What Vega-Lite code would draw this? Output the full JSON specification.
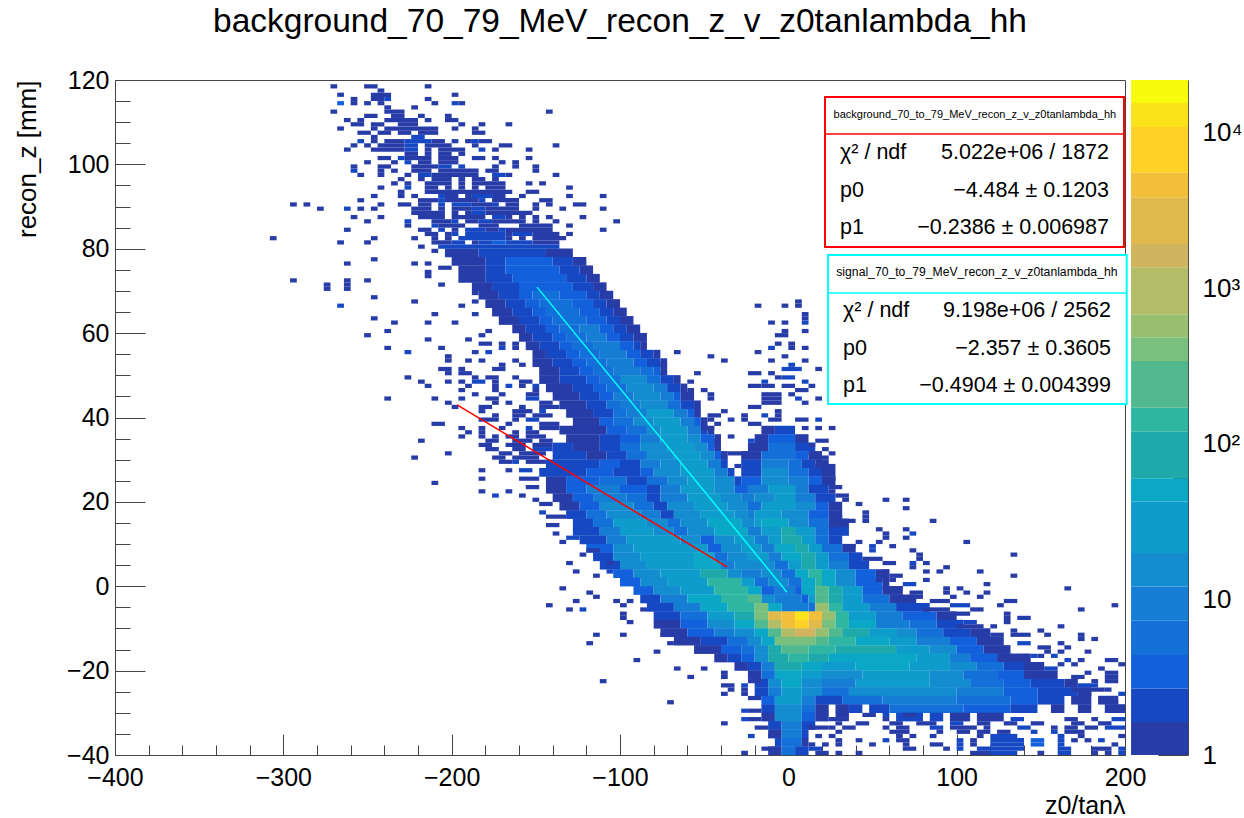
{"$schema":"https://vega.github.io/schema/vega-lite/v6.json","autosize":{"type":"none"},"padding":{"left":115,"top":80,"right":119,"bottom":63},"width":1010,"height":675,"background":"white","title":{"text":"background_70_79_MeV_recon_z_v_z0tanlambda_hh","fontSize":33.5,"font":"Liberation Sans","fontWeight":"normal","color":"#000","anchor":"middle","offset":29},"config":{"view":{"stroke":"#444","strokeWidth":1},"axis":{"grid":false,"zindex":1,"labelFont":"Liberation Sans","titleFont":"Liberation Sans","labelColor":"#000","titleColor":"#000","titleFontWeight":"normal","labelFontSize":25,"titleFontSize":25,"domainColor":"#444","tickColor":"#444","labelOverlap":false,"labelFlush":false,"labelBound":false}},
"datasets":{
"lines":[{"x":-196.8,"y":43,"k":"b"},{"x":-36.4,"y":4.6,"k":"b"},{"x":-149.3,"y":70.9,"k":"s"},{"x":-0.8,"y":-1.4,"k":"s"}],
"boxes":[{"x":21.8,"e":199.4,"y":116,"f":80.4,"k":"b"},{"x":23.6,"e":201,"y":78.5,"f":43.2,"k":"s"}],
"divs":[{"x":21.8,"e":199.4,"y":107.2,"k":"b"},{"x":23.6,"e":201,"y":69.5,"k":"s"}],
"tl":[{"x":30.7,"y":102.7,"t":"χ² / ndf"},{"x":30.7,"y":93.7,"t":"p0"},{"x":30.7,"y":84.9,"t":"p1"},{"x":32.5,"y":65.2,"t":"χ² / ndf"},{"x":32.5,"y":56.2,"t":"p0"},{"x":32.5,"y":47.5,"t":"p1"}],
"tr":[{"x":190.5,"y":102.7,"t":"5.022e+06 / 1872"},{"x":190.5,"y":93.7,"t":"−4.484 ± 0.1203"},{"x":190.5,"y":84.9,"t":"−0.2386 ± 0.006987"},{"x":191.7,"y":65.2,"t":"9.198e+06 / 2562"},{"x":191.7,"y":56.2,"t":"−2.357 ± 0.3605"},{"x":191.7,"y":47.5,"t":"−0.4904 ± 0.004399"}],
"tc1":[{"x":110.8,"y":111.7,"t":"background_70_to_79_MeV_recon_z_v_z0tanlambda_hh"}],
"tc2":[{"x":112,"y":74.5,"t":"signal_70_to_79_MeV_recon_z_v_z0tanlambda_hh"}],
"bar":[{"a":203.6,"b":237.5,"lo":1,"hi":1.63,"n":1},{"a":203.6,"b":237.5,"lo":1.63,"hi":2.68,"n":2},{"a":203.6,"b":237.5,"lo":2.68,"hi":4.4,"n":3},{"a":203.6,"b":237.5,"lo":4.4,"hi":7.3,"n":6},{"a":203.6,"b":237.5,"lo":7.3,"hi":12.1,"n":9},{"a":203.6,"b":237.5,"lo":12.1,"hi":19.9,"n":15},{"a":203.6,"b":237.5,"lo":19.9,"hi":42.7,"n":30},{"a":203.6,"b":237.5,"lo":42.7,"hi":60.3,"n":50},{"a":203.6,"b":237.5,"lo":60.3,"hi":120,"n":90},{"a":203.6,"b":237.5,"lo":120,"hi":171,"n":140},{"a":203.6,"b":237.5,"lo":171,"hi":341,"n":250},{"a":203.6,"b":237.5,"lo":341,"hi":486,"n":400},{"a":203.6,"b":237.5,"lo":486,"hi":683,"n":550},{"a":203.6,"b":237.5,"lo":683,"hi":1367,"n":1000},{"a":203.6,"b":237.5,"lo":1367,"hi":1932,"n":1600},{"a":203.6,"b":237.5,"lo":1932,"hi":3866,"n":2700},{"a":203.6,"b":237.5,"lo":3866,"hi":5540,"n":4500},{"a":203.6,"b":237.5,"lo":5540,"hi":10940,"n":8000},{"a":203.6,"b":237.5,"lo":10940,"hi":15590,"n":13000},{"a":203.6,"b":237.5,"lo":15590,"hi":21900,"n":18000}],
"body":[
{"x":-204,"e":-184,"y":79,"n":1},{"x":-184,"e":-144,"y":79,"n":2},{"x":-144,"e":-128,"y":79,"n":1},
{"x":-200,"e":-180,"y":77,"n":1},{"x":-180,"e":-168,"y":77,"n":2},{"x":-168,"e":-140,"y":77,"n":3},{"x":-140,"e":-128,"y":77,"n":2},{"x":-128,"e":-120,"y":77,"n":1},
{"x":-196,"e":-180,"y":75,"n":1},{"x":-180,"e":-168,"y":75,"n":2},{"x":-168,"e":-136,"y":75,"n":3},{"x":-136,"e":-124,"y":75,"n":2},{"x":-124,"e":-116,"y":75,"n":1},
{"x":-196,"e":-180,"y":73,"n":1},{"x":-180,"e":-164,"y":73,"n":2},{"x":-164,"e":-132,"y":73,"n":3},{"x":-132,"e":-120,"y":73,"n":2},{"x":-120,"e":-112,"y":73,"n":1},
{"x":-188,"e":-176,"y":71,"n":1},{"x":-176,"e":-160,"y":71,"n":2},{"x":-160,"e":-128,"y":71,"n":3},{"x":-128,"e":-116,"y":71,"n":2},{"x":-116,"e":-108,"y":71,"n":1},
{"x":-184,"e":-172,"y":69,"n":1},{"x":-172,"e":-160,"y":69,"n":2},{"x":-160,"e":-152,"y":69,"n":3},{"x":-152,"e":-136,"y":69,"n":6},{"x":-136,"e":-120,"y":69,"n":3},{"x":-120,"e":-112,"y":69,"n":2},{"x":-112,"e":-104,"y":69,"n":1},
{"x":-180,"e":-168,"y":67,"n":1},{"x":-168,"e":-156,"y":67,"n":2},{"x":-156,"e":-148,"y":67,"n":3},{"x":-148,"e":-128,"y":67,"n":6},{"x":-128,"e":-116,"y":67,"n":3},{"x":-116,"e":-108,"y":67,"n":2},{"x":-108,"e":-100,"y":67,"n":1},
{"x":-176,"e":-164,"y":65,"n":1},{"x":-164,"e":-152,"y":65,"n":2},{"x":-152,"e":-144,"y":65,"n":3},{"x":-144,"e":-124,"y":65,"n":6},{"x":-124,"e":-112,"y":65,"n":3},{"x":-112,"e":-104,"y":65,"n":2},{"x":-104,"e":-96,"y":65,"n":1},
{"x":-172,"e":-160,"y":63,"n":1},{"x":-160,"e":-148,"y":63,"n":2},{"x":-148,"e":-140,"y":63,"n":3},{"x":-140,"e":-120,"y":63,"n":6},{"x":-120,"e":-108,"y":63,"n":3},{"x":-108,"e":-100,"y":63,"n":2},{"x":-100,"e":-92,"y":63,"n":1},
{"x":-164,"e":-156,"y":61,"n":1},{"x":-156,"e":-144,"y":61,"n":2},{"x":-144,"e":-136,"y":61,"n":3},{"x":-136,"e":-124,"y":61,"n":6},{"x":-124,"e":-112,"y":61,"n":9},{"x":-112,"e":-104,"y":61,"n":3},{"x":-104,"e":-96,"y":61,"n":2},{"x":-96,"e":-88,"y":61,"n":1},
{"x":-160,"e":-152,"y":59,"n":1},{"x":-152,"e":-140,"y":59,"n":2},{"x":-140,"e":-132,"y":59,"n":3},{"x":-132,"e":-120,"y":59,"n":6},{"x":-120,"e":-108,"y":59,"n":9},{"x":-108,"e":-100,"y":59,"n":3},{"x":-100,"e":-92,"y":59,"n":2},{"x":-92,"e":-84,"y":59,"n":1},
{"x":-156,"e":-148,"y":57,"n":1},{"x":-148,"e":-136,"y":57,"n":2},{"x":-136,"e":-128,"y":57,"n":3},{"x":-128,"e":-116,"y":57,"n":6},{"x":-116,"e":-100,"y":57,"n":9},{"x":-100,"e":-92,"y":57,"n":3},{"x":-92,"e":-88,"y":57,"n":2},{"x":-88,"e":-84,"y":57,"n":1},
{"x":-152,"e":-144,"y":55,"n":1},{"x":-144,"e":-132,"y":55,"n":2},{"x":-132,"e":-124,"y":55,"n":3},{"x":-124,"e":-112,"y":55,"n":6},{"x":-112,"e":-96,"y":55,"n":9},{"x":-96,"e":-88,"y":55,"n":3},{"x":-88,"e":-80,"y":55,"n":2},{"x":-80,"e":-76,"y":55,"n":1},
{"x":-152,"e":-140,"y":53,"n":1},{"x":-140,"e":-128,"y":53,"n":2},{"x":-128,"e":-120,"y":53,"n":3},{"x":-120,"e":-108,"y":53,"n":6},{"x":-108,"e":-92,"y":53,"n":9},{"x":-92,"e":-84,"y":53,"n":3},{"x":-84,"e":-76,"y":53,"n":2},{"x":-76,"e":-72,"y":53,"n":1},
{"x":-148,"e":-136,"y":51,"n":1},{"x":-136,"e":-124,"y":51,"n":2},{"x":-124,"e":-116,"y":51,"n":3},{"x":-116,"e":-104,"y":51,"n":6},{"x":-104,"e":-88,"y":51,"n":9},{"x":-88,"e":-80,"y":51,"n":6},{"x":-80,"e":-76,"y":51,"n":3},{"x":-76,"e":-72,"y":51,"n":1},
{"x":-148,"e":-136,"y":49,"n":1},{"x":-136,"e":-120,"y":49,"n":2},{"x":-120,"e":-112,"y":49,"n":3},{"x":-112,"e":-100,"y":49,"n":6},{"x":-100,"e":-84,"y":49,"n":15},{"x":-84,"e":-76,"y":49,"n":6},{"x":-76,"e":-68,"y":49,"n":2},{"x":-68,"e":-64,"y":49,"n":1},
{"x":-144,"e":-128,"y":47,"n":1},{"x":-128,"e":-116,"y":47,"n":2},{"x":-116,"e":-108,"y":47,"n":3},{"x":-108,"e":-96,"y":47,"n":6},{"x":-96,"e":-80,"y":47,"n":15},{"x":-80,"e":-72,"y":47,"n":9},{"x":-72,"e":-64,"y":47,"n":2},{"x":-64,"e":-60,"y":47,"n":1},
{"x":-140,"e":-124,"y":45,"n":1},{"x":-124,"e":-112,"y":45,"n":2},{"x":-112,"e":-104,"y":45,"n":3},{"x":-104,"e":-92,"y":45,"n":9},{"x":-92,"e":-76,"y":45,"n":15},{"x":-76,"e":-68,"y":45,"n":9},{"x":-68,"e":-64,"y":45,"n":3},{"x":-64,"e":-56,"y":45,"n":1},
{"x":-136,"e":-120,"y":43,"n":1},{"x":-120,"e":-108,"y":43,"n":2},{"x":-108,"e":-100,"y":43,"n":6},{"x":-100,"e":-88,"y":43,"n":9},{"x":-88,"e":-72,"y":43,"n":15},{"x":-72,"e":-64,"y":43,"n":6},{"x":-64,"e":-56,"y":43,"n":2},{"x":-56,"e":-52,"y":43,"n":1},
{"x":-132,"e":-116,"y":41,"n":1},{"x":-116,"e":-104,"y":41,"n":2},{"x":-104,"e":-96,"y":41,"n":6},{"x":-96,"e":-84,"y":41,"n":9},{"x":-84,"e":-68,"y":41,"n":30},{"x":-68,"e":-60,"y":41,"n":9},{"x":-60,"e":-56,"y":41,"n":3},{"x":-56,"e":-52,"y":41,"n":1},
{"x":-128,"e":-112,"y":39,"n":1},{"x":-112,"e":-104,"y":39,"n":3},{"x":-104,"e":-92,"y":39,"n":6},{"x":-92,"e":-80,"y":39,"n":15},{"x":-80,"e":-64,"y":39,"n":30},{"x":-64,"e":-56,"y":39,"n":9},{"x":-56,"e":-52,"y":39,"n":3},{"x":-52,"e":-48,"y":39,"n":1},
{"x":-136,"e":-108,"y":37,"n":1},{"x":-108,"e":-96,"y":37,"n":3},{"x":-96,"e":-84,"y":37,"n":6},{"x":-84,"e":-76,"y":37,"n":15},{"x":-76,"e":-60,"y":37,"n":30},{"x":-60,"e":-52,"y":37,"n":9},{"x":-52,"e":-48,"y":37,"n":2},{"x":-48,"e":-44,"y":37,"n":1},{"x":-16,"e":-8,"y":37,"n":1},{"x":-8,"e":4,"y":37,"n":2},
{"x":-132,"e":-112,"y":35,"n":1},{"x":-112,"e":-100,"y":35,"n":2},{"x":-100,"e":-88,"y":35,"n":3},{"x":-88,"e":-76,"y":35,"n":9},{"x":-76,"e":-60,"y":35,"n":30},{"x":-60,"e":-52,"y":35,"n":15},{"x":-52,"e":-44,"y":35,"n":3},{"x":-44,"e":-40,"y":35,"n":1},{"x":-20,"e":-12,"y":35,"n":1},{"x":-12,"e":4,"y":35,"n":3},{"x":4,"e":12,"y":35,"n":1},
{"x":-140,"e":-128,"y":33,"n":2},{"x":-128,"e":-112,"y":33,"n":1},{"x":-112,"e":-100,"y":33,"n":2},{"x":-100,"e":-88,"y":33,"n":6},{"x":-88,"e":-72,"y":33,"n":15},{"x":-72,"e":-56,"y":33,"n":30},{"x":-56,"e":-48,"y":33,"n":15},{"x":-48,"e":-44,"y":33,"n":3},{"x":-44,"e":-40,"y":33,"n":1},{"x":-24,"e":-12,"y":33,"n":1},{"x":-12,"e":4,"y":33,"n":6},{"x":4,"e":16,"y":33,"n":2},
{"x":-140,"e":-120,"y":31,"n":2},{"x":-120,"e":-108,"y":31,"n":1},{"x":-108,"e":-96,"y":31,"n":2},{"x":-96,"e":-84,"y":31,"n":6},{"x":-84,"e":-68,"y":31,"n":15},{"x":-68,"e":-52,"y":31,"n":30},{"x":-52,"e":-44,"y":31,"n":15},{"x":-44,"e":-40,"y":31,"n":3},{"x":-40,"e":-36,"y":31,"n":1},{"x":-28,"e":-16,"y":31,"n":1},{"x":-16,"e":4,"y":31,"n":6},{"x":4,"e":12,"y":31,"n":3},{"x":12,"e":20,"y":31,"n":1},
{"x":-144,"e":-112,"y":29,"n":2},{"x":-112,"e":-100,"y":29,"n":3},{"x":-100,"e":-88,"y":29,"n":2},{"x":-88,"e":-76,"y":29,"n":9},{"x":-76,"e":-64,"y":29,"n":15},{"x":-64,"e":-48,"y":29,"n":30},{"x":-48,"e":-40,"y":29,"n":9},{"x":-40,"e":-36,"y":29,"n":2},{"x":-28,"e":-16,"y":29,"n":2},{"x":-16,"e":0,"y":29,"n":9},{"x":0,"e":8,"y":29,"n":6},{"x":8,"e":16,"y":29,"n":2},{"x":16,"e":24,"y":29,"n":1},
{"x":-148,"e":-120,"y":27,"n":2},{"x":-120,"e":-104,"y":27,"n":3},{"x":-104,"e":-88,"y":27,"n":2},{"x":-88,"e":-80,"y":27,"n":3},{"x":-80,"e":-64,"y":27,"n":15},{"x":-64,"e":-44,"y":27,"n":30},{"x":-44,"e":-36,"y":27,"n":9},{"x":-36,"e":-32,"y":27,"n":2},{"x":-28,"e":-16,"y":27,"n":2},{"x":-16,"e":0,"y":27,"n":15},{"x":0,"e":12,"y":27,"n":6},{"x":12,"e":20,"y":27,"n":2},{"x":20,"e":28,"y":27,"n":1},
{"x":-144,"e":-132,"y":25,"n":1},{"x":-132,"e":-112,"y":25,"n":3},{"x":-112,"e":-96,"y":25,"n":6},{"x":-96,"e":-84,"y":25,"n":2},{"x":-84,"e":-72,"y":25,"n":6},{"x":-72,"e":-60,"y":25,"n":15},{"x":-60,"e":-44,"y":25,"n":30},{"x":-44,"e":-32,"y":25,"n":15},{"x":-32,"e":-28,"y":25,"n":2},{"x":-28,"e":-16,"y":25,"n":3},{"x":-16,"e":0,"y":25,"n":15},{"x":0,"e":12,"y":25,"n":9},{"x":12,"e":20,"y":25,"n":3},{"x":20,"e":28,"y":25,"n":1},
{"x":-144,"e":-132,"y":23,"n":1},{"x":-132,"e":-120,"y":23,"n":3},{"x":-120,"e":-100,"y":23,"n":9},{"x":-100,"e":-84,"y":23,"n":3},{"x":-84,"e":-76,"y":23,"n":2},{"x":-76,"e":-64,"y":23,"n":9},{"x":-64,"e":-44,"y":23,"n":30},{"x":-44,"e":-32,"y":23,"n":15},{"x":-32,"e":-24,"y":23,"n":3},{"x":-24,"e":-12,"y":23,"n":9},{"x":-12,"e":4,"y":23,"n":30},{"x":4,"e":12,"y":23,"n":9},{"x":12,"e":24,"y":23,"n":2},
{"x":-140,"e":-128,"y":21,"n":1},{"x":-128,"e":-116,"y":21,"n":3},{"x":-116,"e":-96,"y":21,"n":9},{"x":-96,"e":-84,"y":21,"n":6},{"x":-84,"e":-76,"y":21,"n":2},{"x":-76,"e":-60,"y":21,"n":9},{"x":-60,"e":-40,"y":21,"n":30},{"x":-40,"e":-28,"y":21,"n":15},{"x":-28,"e":-20,"y":21,"n":9},{"x":-20,"e":-8,"y":21,"n":15},{"x":-8,"e":4,"y":21,"n":30},{"x":4,"e":16,"y":21,"n":9},{"x":16,"e":28,"y":21,"n":2},
{"x":-136,"e":-124,"y":19,"n":1},{"x":-124,"e":-112,"y":19,"n":3},{"x":-112,"e":-92,"y":19,"n":15},{"x":-92,"e":-80,"y":19,"n":6},{"x":-80,"e":-72,"y":19,"n":2},{"x":-72,"e":-56,"y":19,"n":15},{"x":-56,"e":-36,"y":19,"n":30},{"x":-36,"e":-24,"y":19,"n":15},{"x":-24,"e":-16,"y":19,"n":6},{"x":-16,"e":4,"y":19,"n":30},{"x":4,"e":16,"y":19,"n":15},{"x":16,"e":24,"y":19,"n":3},{"x":24,"e":32,"y":19,"n":1},
{"x":-132,"e":-120,"y":17,"n":2},{"x":-120,"e":-108,"y":17,"n":6},{"x":-108,"e":-88,"y":17,"n":15},{"x":-88,"e":-76,"y":17,"n":9},{"x":-76,"e":-68,"y":17,"n":2},{"x":-68,"e":-52,"y":17,"n":15},{"x":-52,"e":-32,"y":17,"n":30},{"x":-32,"e":-24,"y":17,"n":15},{"x":-24,"e":-20,"y":17,"n":9},{"x":-20,"e":-4,"y":17,"n":30},{"x":-4,"e":12,"y":17,"n":15},{"x":12,"e":24,"y":17,"n":3},{"x":24,"e":32,"y":17,"n":1},
{"x":-128,"e":-116,"y":15,"n":2},{"x":-116,"e":-104,"y":15,"n":6},{"x":-104,"e":-84,"y":15,"n":30},{"x":-84,"e":-72,"y":15,"n":15},{"x":-72,"e":-64,"y":15,"n":6},{"x":-64,"e":-48,"y":15,"n":15},{"x":-48,"e":-28,"y":15,"n":50},{"x":-28,"e":-20,"y":15,"n":15},{"x":-20,"e":-16,"y":15,"n":30},{"x":-16,"e":0,"y":15,"n":50},{"x":0,"e":12,"y":15,"n":15},{"x":12,"e":24,"y":15,"n":6},{"x":24,"e":36,"y":15,"n":1},
{"x":-128,"e":-112,"y":13,"n":2},{"x":-112,"e":-100,"y":13,"n":9},{"x":-100,"e":-80,"y":13,"n":30},{"x":-80,"e":-68,"y":13,"n":15},{"x":-68,"e":-60,"y":13,"n":6},{"x":-60,"e":-44,"y":13,"n":15},{"x":-44,"e":-24,"y":13,"n":50},{"x":-24,"e":-16,"y":13,"n":9},{"x":-16,"e":-4,"y":13,"n":30},{"x":-4,"e":4,"y":13,"n":90},{"x":4,"e":16,"y":13,"n":30},{"x":16,"e":24,"y":13,"n":6},{"x":24,"e":36,"y":13,"n":2},
{"x":-124,"e":-108,"y":11,"n":2},{"x":-108,"e":-96,"y":11,"n":9},{"x":-96,"e":-64,"y":11,"n":30},{"x":-64,"e":-52,"y":11,"n":15},{"x":-52,"e":-44,"y":11,"n":3},{"x":-44,"e":-32,"y":11,"n":15},{"x":-32,"e":-20,"y":11,"n":30},{"x":-20,"e":-12,"y":11,"n":9},{"x":-12,"e":-4,"y":11,"n":30},{"x":-4,"e":8,"y":11,"n":90},{"x":8,"e":16,"y":11,"n":30},{"x":16,"e":24,"y":11,"n":6},{"x":24,"e":32,"y":11,"n":2},
{"x":-120,"e":-104,"y":9,"n":3},{"x":-104,"e":-92,"y":9,"n":15},{"x":-92,"e":-48,"y":9,"n":30},{"x":-48,"e":-40,"y":9,"n":3},{"x":-40,"e":-28,"y":9,"n":15},{"x":-28,"e":-16,"y":9,"n":30},{"x":-16,"e":-8,"y":9,"n":9},{"x":-8,"e":4,"y":9,"n":50},{"x":4,"e":12,"y":9,"n":90},{"x":12,"e":20,"y":9,"n":30},{"x":20,"e":32,"y":9,"n":6},{"x":32,"e":40,"y":9,"n":1},
{"x":-116,"e":-104,"y":7,"n":2},{"x":-104,"e":-88,"y":7,"n":15},{"x":-88,"e":-56,"y":7,"n":30},{"x":-56,"e":-44,"y":7,"n":50},{"x":-44,"e":-36,"y":7,"n":6},{"x":-36,"e":-24,"y":7,"n":15},{"x":-24,"e":-12,"y":7,"n":30},{"x":-12,"e":-4,"y":7,"n":9},{"x":-4,"e":8,"y":7,"n":50},{"x":8,"e":16,"y":7,"n":90},{"x":16,"e":24,"y":7,"n":30},{"x":24,"e":36,"y":7,"n":6},{"x":36,"e":44,"y":7,"n":2},
{"x":-112,"e":-100,"y":5,"n":2},{"x":-100,"e":-84,"y":5,"n":15},{"x":-84,"e":-56,"y":5,"n":30},{"x":-56,"e":-40,"y":5,"n":50},{"x":-40,"e":-32,"y":5,"n":9},{"x":-32,"e":-8,"y":5,"n":15},{"x":-8,"e":0,"y":5,"n":6},{"x":0,"e":8,"y":5,"n":30},{"x":8,"e":16,"y":5,"n":90},{"x":16,"e":24,"y":5,"n":30},{"x":24,"e":36,"y":5,"n":9},{"x":36,"e":48,"y":5,"n":2},
{"x":-104,"e":-92,"y":3,"n":3},{"x":-92,"e":-76,"y":3,"n":15},{"x":-76,"e":-52,"y":3,"n":30},{"x":-52,"e":-36,"y":3,"n":90},{"x":-36,"e":-28,"y":3,"n":15},{"x":-28,"e":-16,"y":3,"n":9},{"x":-16,"e":-4,"y":3,"n":15},{"x":-4,"e":4,"y":3,"n":6},{"x":4,"e":12,"y":3,"n":50},{"x":12,"e":20,"y":3,"n":140},{"x":20,"e":28,"y":3,"n":50},{"x":28,"e":40,"y":3,"n":15},{"x":40,"e":52,"y":3,"n":3},{"x":52,"e":60,"y":3,"n":1},
{"x":-100,"e":-88,"y":1,"n":3},{"x":-88,"e":-72,"y":1,"n":15},{"x":-72,"e":-48,"y":1,"n":30},{"x":-48,"e":-28,"y":1,"n":140},{"x":-28,"e":-20,"y":1,"n":30},{"x":-20,"e":-12,"y":1,"n":6},{"x":-12,"e":0,"y":1,"n":15},{"x":0,"e":8,"y":1,"n":6},{"x":8,"e":16,"y":1,"n":50},{"x":16,"e":20,"y":1,"n":140},{"x":20,"e":28,"y":1,"n":50},{"x":28,"e":40,"y":1,"n":15},{"x":40,"e":56,"y":1,"n":3},{"x":56,"e":60,"y":1,"n":1},
{"x":-92,"e":-80,"y":-1,"n":3},{"x":-80,"e":-64,"y":-1,"n":15},{"x":-64,"e":-44,"y":-1,"n":30},{"x":-44,"e":-24,"y":-1,"n":140},{"x":-24,"e":-16,"y":-1,"n":50},{"x":-16,"e":-8,"y":-1,"n":3},{"x":-8,"e":4,"y":-1,"n":9},{"x":4,"e":8,"y":-1,"n":3},{"x":8,"e":16,"y":-1,"n":50},{"x":16,"e":24,"y":-1,"n":250},{"x":24,"e":32,"y":-1,"n":90},{"x":32,"e":44,"y":-1,"n":30},{"x":44,"e":56,"y":-1,"n":3},{"x":56,"e":68,"y":-1,"n":1},
{"x":-88,"e":-76,"y":-3,"n":2},{"x":-76,"e":-60,"y":-3,"n":9},{"x":-60,"e":-40,"y":-3,"n":50},{"x":-40,"e":-24,"y":-3,"n":140},{"x":-24,"e":-16,"y":-3,"n":250},{"x":-16,"e":-8,"y":-3,"n":15},{"x":-8,"e":8,"y":-3,"n":9},{"x":8,"e":12,"y":-3,"n":3},{"x":12,"e":16,"y":-3,"n":30},{"x":16,"e":24,"y":-3,"n":250},{"x":24,"e":32,"y":-3,"n":90},{"x":32,"e":44,"y":-3,"n":30},{"x":44,"e":60,"y":-3,"n":6},{"x":60,"e":76,"y":-3,"n":1},
{"x":-84,"e":-68,"y":-5,"n":2},{"x":-68,"e":-52,"y":-5,"n":9},{"x":-52,"e":-36,"y":-5,"n":50},{"x":-36,"e":-20,"y":-5,"n":140},{"x":-20,"e":-12,"y":-5,"n":400},{"x":-12,"e":-4,"y":-5,"n":50},{"x":-4,"e":12,"y":-5,"n":9},{"x":12,"e":16,"y":-5,"n":6},{"x":16,"e":24,"y":-5,"n":550},{"x":24,"e":32,"y":-5,"n":140},{"x":32,"e":48,"y":-5,"n":30},{"x":48,"e":64,"y":-5,"n":9},{"x":64,"e":84,"y":-5,"n":2},
{"x":-80,"e":-64,"y":-7,"n":2},{"x":-64,"e":-48,"y":-7,"n":6},{"x":-48,"e":-32,"y":-7,"n":30},{"x":-32,"e":-20,"y":-7,"n":90},{"x":-20,"e":-12,"y":-7,"n":400},{"x":-12,"e":-4,"y":-7,"n":2700},{"x":-4,"e":4,"y":-7,"n":4500},{"x":4,"e":12,"y":-7,"n":13000},{"x":12,"e":20,"y":-7,"n":4500},{"x":20,"e":28,"y":-7,"n":550},{"x":28,"e":36,"y":-7,"n":140},{"x":36,"e":52,"y":-7,"n":30},{"x":52,"e":68,"y":-7,"n":9},{"x":68,"e":88,"y":-7,"n":3},{"x":88,"e":100,"y":-7,"n":1},
{"x":-80,"e":-64,"y":-9,"n":1},{"x":-64,"e":-48,"y":-9,"n":3},{"x":-48,"e":-32,"y":-9,"n":15},{"x":-32,"e":-20,"y":-9,"n":50},{"x":-20,"e":-12,"y":-9,"n":250},{"x":-12,"e":-4,"y":-9,"n":1000},{"x":-4,"e":4,"y":-9,"n":4500},{"x":4,"e":12,"y":-9,"n":8000},{"x":12,"e":20,"y":-9,"n":2700},{"x":20,"e":28,"y":-9,"n":400},{"x":28,"e":36,"y":-9,"n":140},{"x":36,"e":52,"y":-9,"n":50},{"x":52,"e":72,"y":-9,"n":9},{"x":72,"e":88,"y":-9,"n":6},{"x":88,"e":104,"y":-9,"n":2},
{"x":-76,"e":-60,"y":-11,"n":1},{"x":-60,"e":-44,"y":-11,"n":3},{"x":-44,"e":-32,"y":-11,"n":9},{"x":-32,"e":-20,"y":-11,"n":15},{"x":-20,"e":-12,"y":-11,"n":50},{"x":-12,"e":-4,"y":-11,"n":250},{"x":-4,"e":4,"y":-11,"n":1000},{"x":4,"e":16,"y":-11,"n":1600},{"x":16,"e":24,"y":-11,"n":550},{"x":24,"e":32,"y":-11,"n":250},{"x":32,"e":48,"y":-11,"n":90},{"x":48,"e":64,"y":-11,"n":30},{"x":64,"e":76,"y":-11,"n":15},{"x":76,"e":92,"y":-11,"n":6},{"x":92,"e":108,"y":-11,"n":2},{"x":108,"e":120,"y":-11,"n":1},
{"x":-68,"e":-52,"y":-13,"n":1},{"x":-52,"e":-36,"y":-13,"n":2},{"x":-36,"e":-24,"y":-13,"n":6},{"x":-24,"e":-16,"y":-13,"n":15},{"x":-16,"e":-8,"y":-13,"n":50},{"x":-8,"e":16,"y":-13,"n":400},{"x":16,"e":24,"y":-13,"n":250},{"x":24,"e":40,"y":-13,"n":140},{"x":40,"e":60,"y":-13,"n":50},{"x":60,"e":76,"y":-13,"n":30},{"x":76,"e":96,"y":-13,"n":9},{"x":96,"e":112,"y":-13,"n":3},{"x":112,"e":128,"y":-13,"n":1},
{"x":-56,"e":-40,"y":-15,"n":1},{"x":-40,"e":-28,"y":-15,"n":3},{"x":-28,"e":-20,"y":-15,"n":6},{"x":-20,"e":-12,"y":-15,"n":15},{"x":-12,"e":-4,"y":-15,"n":90},{"x":-4,"e":12,"y":-15,"n":250},{"x":12,"e":28,"y":-15,"n":140},{"x":28,"e":64,"y":-15,"n":90},{"x":64,"e":84,"y":-15,"n":30},{"x":84,"e":100,"y":-15,"n":15},{"x":100,"e":116,"y":-15,"n":3},{"x":116,"e":132,"y":-15,"n":1},
{"x":-44,"e":-36,"y":-17,"n":1},{"x":-36,"e":-28,"y":-17,"n":2},{"x":-28,"e":-20,"y":-17,"n":3},{"x":-20,"e":-12,"y":-17,"n":15},{"x":-12,"e":0,"y":-17,"n":90},{"x":0,"e":12,"y":-17,"n":140},{"x":12,"e":24,"y":-17,"n":90},{"x":24,"e":76,"y":-17,"n":50},{"x":76,"e":96,"y":-17,"n":30},{"x":96,"e":108,"y":-17,"n":9},{"x":108,"e":124,"y":-17,"n":3},{"x":124,"e":144,"y":-17,"n":1},
{"x":-32,"e":-24,"y":-19,"n":1},{"x":-24,"e":-16,"y":-19,"n":2},{"x":-16,"e":-8,"y":-19,"n":9},{"x":-8,"e":8,"y":-19,"n":90},{"x":8,"e":20,"y":-19,"n":50},{"x":20,"e":40,"y":-19,"n":30},{"x":40,"e":72,"y":-19,"n":50},{"x":72,"e":96,"y":-19,"n":30},{"x":96,"e":112,"y":-19,"n":15},{"x":112,"e":128,"y":-19,"n":6},{"x":128,"e":140,"y":-19,"n":2},{"x":140,"e":152,"y":-19,"n":1},
{"x":-24,"e":-16,"y":-21,"n":1},{"x":-16,"e":-8,"y":-21,"n":6},{"x":-8,"e":8,"y":-21,"n":50},{"x":8,"e":20,"y":-21,"n":30},{"x":20,"e":44,"y":-21,"n":15},{"x":44,"e":84,"y":-21,"n":30},{"x":84,"e":104,"y":-21,"n":15},{"x":104,"e":124,"y":-21,"n":6},{"x":124,"e":140,"y":-21,"n":3},{"x":140,"e":160,"y":-21,"n":1},
{"x":-20,"e":-12,"y":-23,"n":2},{"x":-12,"e":-4,"y":-23,"n":15},{"x":-4,"e":8,"y":-23,"n":50},{"x":8,"e":20,"y":-23,"n":15},{"x":20,"e":40,"y":-23,"n":9},{"x":40,"e":84,"y":-23,"n":30},{"x":84,"e":108,"y":-23,"n":15},{"x":108,"e":128,"y":-23,"n":6},{"x":128,"e":144,"y":-23,"n":3},{"x":144,"e":164,"y":-23,"n":2},{"x":164,"e":172,"y":-23,"n":1},
{"x":-20,"e":-12,"y":-25,"n":2},{"x":-12,"e":-4,"y":-25,"n":9},{"x":-4,"e":8,"y":-25,"n":30},{"x":8,"e":20,"y":-25,"n":15},{"x":20,"e":36,"y":-25,"n":6},{"x":36,"e":100,"y":-25,"n":15},{"x":100,"e":128,"y":-25,"n":9},{"x":128,"e":148,"y":-25,"n":3},{"x":148,"e":172,"y":-25,"n":2},{"x":172,"e":180,"y":-25,"n":1},
{"x":-16,"e":-8,"y":-27,"n":3},{"x":-8,"e":8,"y":-27,"n":30},{"x":8,"e":16,"y":-27,"n":9},{"x":16,"e":32,"y":-27,"n":2},{"x":32,"e":56,"y":-27,"n":6},{"x":56,"e":100,"y":-27,"n":9},{"x":100,"e":132,"y":-27,"n":6},{"x":132,"e":148,"y":-27,"n":3},{"x":148,"e":164,"y":-27,"n":2},{"x":168,"e":180,"y":-27,"n":1},{"x":184,"e":196,"y":-27,"n":1},
{"x":-16,"e":-8,"y":-29,"n":2},{"x":-8,"e":8,"y":-29,"n":15},{"x":8,"e":16,"y":-29,"n":6},{"x":16,"e":24,"y":-29,"n":1},{"x":28,"e":36,"y":-29,"n":1},{"x":36,"e":44,"y":-29,"n":2},{"x":48,"e":60,"y":-29,"n":2},{"x":60,"e":104,"y":-29,"n":6},{"x":104,"e":132,"y":-29,"n":3},{"x":132,"e":148,"y":-29,"n":2},{"x":156,"e":164,"y":-29,"n":1},{"x":172,"e":180,"y":-29,"n":1},{"x":188,"e":200,"y":-29,"n":1},
{"x":-16,"e":-8,"y":-31,"n":1},{"x":-8,"e":8,"y":-31,"n":15},{"x":8,"e":16,"y":-31,"n":3},{"x":16,"e":24,"y":-31,"n":1},{"x":64,"e":80,"y":-31,"n":2},{"x":84,"e":92,"y":-31,"n":2},{"x":96,"e":108,"y":-31,"n":1},{"x":112,"e":128,"y":-31,"n":1},
{"x":-12,"e":-4,"y":-33,"n":2},{"x":-4,"e":8,"y":-33,"n":9},{"x":8,"e":16,"y":-33,"n":2},
{"x":-12,"e":-4,"y":-35,"n":1},{"x":-4,"e":8,"y":-35,"n":9},{"x":8,"e":12,"y":-35,"n":2},
{"x":-8,"e":-4,"y":-37,"n":2},{"x":-4,"e":8,"y":-37,"n":6},{"x":8,"e":12,"y":-37,"n":1},
{"x":-12,"e":-4,"y":-39,"n":1},{"x":-4,"e":4,"y":-39,"n":6},{"x":4,"e":12,"y":-39,"n":2}],
"fine":[
{"x":-272,"e":-268,"y":118.5,"n":1},{"x":-252,"e":-244,"y":118.5,"n":1},{"x":-216,"e":-212,"y":118.5,"n":1},{"x":-244,"e":-240,"y":117.5,"n":1},{"x":-268,"e":-264,"y":116.5,"n":1},{"x":-248,"e":-236,"y":116.5,"n":1},{"x":-200,"e":-196,"y":116.5,"n":1},{"x":-260,"e":-256,"y":115.5,"n":1},{"x":-248,"e":-240,"y":115.5,"n":1},{"x":-240,"e":-236,"y":115.5,"n":2},{"x":-216,"e":-212,"y":115.5,"n":1},{"x":-268,"e":-264,"y":114.5,"n":3},{"x":-260,"e":-256,"y":114.5,"n":1},{"x":-252,"e":-248,"y":114.5,"n":1},{"x":-244,"e":-240,"y":114.5,"n":1},{"x":-212,"e":-208,"y":114.5,"n":1},{"x":-200,"e":-196,"y":114.5,"n":2},{"x":-196,"e":-192,"y":114.5,"n":1},{"x":-240,"e":-236,"y":113.5,"n":1},{"x":-224,"e":-220,"y":113.5,"n":1},{"x":-272,"e":-268,"y":112.5,"n":1},{"x":-240,"e":-228,"y":112.5,"n":1},{"x":-144,"e":-140,"y":112.5,"n":1},{"x":-252,"e":-244,"y":111.5,"n":1},{"x":-236,"e":-228,"y":111.5,"n":1},{"x":-220,"e":-216,"y":111.5,"n":1},{"x":-204,"e":-200,"y":111.5,"n":1},{"x":-264,"e":-260,"y":110.5,"n":1},{"x":-256,"e":-252,"y":110.5,"n":1},{"x":-240,"e":-220,"y":110.5,"n":1},{"x":-216,"e":-212,"y":110.5,"n":1},{"x":-204,"e":-196,"y":110.5,"n":1},{"x":-260,"e":-252,"y":109.5,"n":1},{"x":-248,"e":-240,"y":109.5,"n":1},{"x":-232,"e":-220,"y":109.5,"n":1},{"x":-196,"e":-192,"y":109.5,"n":1},{"x":-184,"e":-180,"y":109.5,"n":1},{"x":-168,"e":-164,"y":109.5,"n":1},{"x":-268,"e":-264,"y":108.5,"n":1},{"x":-248,"e":-244,"y":108.5,"n":1},{"x":-240,"e":-208,"y":108.5,"n":1},{"x":-200,"e":-196,"y":108.5,"n":1},{"x":-188,"e":-184,"y":108.5,"n":1},{"x":-256,"e":-248,"y":107.5,"n":1},{"x":-244,"e":-236,"y":107.5,"n":1},{"x":-232,"e":-224,"y":107.5,"n":1},{"x":-220,"e":-208,"y":107.5,"n":1},{"x":-188,"e":-180,"y":107.5,"n":1},{"x":-248,"e":-244,"y":106.5,"n":1},{"x":-224,"e":-216,"y":106.5,"n":2},{"x":-256,"e":-252,"y":105.5,"n":2},{"x":-248,"e":-244,"y":105.5,"n":1},{"x":-240,"e":-228,"y":105.5,"n":1},{"x":-228,"e":-212,"y":105.5,"n":2},{"x":-212,"e":-204,"y":105.5,"n":1},{"x":-200,"e":-196,"y":105.5,"n":1},{"x":-192,"e":-188,"y":105.5,"n":1},{"x":-188,"e":-184,"y":105.5,"n":2},{"x":-184,"e":-176,"y":105.5,"n":1},{"x":-260,"e":-256,"y":104.5,"n":1},{"x":-252,"e":-248,"y":104.5,"n":1},{"x":-244,"e":-228,"y":104.5,"n":1},{"x":-228,"e":-220,"y":104.5,"n":2},{"x":-216,"e":-200,"y":104.5,"n":1},{"x":-188,"e":-184,"y":104.5,"n":1},{"x":-172,"e":-164,"y":104.5,"n":1},{"x":-140,"e":-136,"y":104.5,"n":1},{"x":-264,"e":-260,"y":103.5,"n":1},{"x":-248,"e":-228,"y":103.5,"n":1},{"x":-228,"e":-220,"y":103.5,"n":2},{"x":-216,"e":-212,"y":103.5,"n":1},{"x":-208,"e":-192,"y":103.5,"n":1},{"x":-184,"e":-180,"y":103.5,"n":2},{"x":-176,"e":-172,"y":103.5,"n":1},{"x":-156,"e":-152,"y":103.5,"n":1},{"x":-228,"e":-220,"y":102.5,"n":1},{"x":-216,"e":-212,"y":102.5,"n":1},{"x":-208,"e":-200,"y":102.5,"n":1},{"x":-196,"e":-192,"y":102.5,"n":1},{"x":-244,"e":-236,"y":101.5,"n":1},{"x":-232,"e":-228,"y":101.5,"n":2},{"x":-228,"e":-212,"y":101.5,"n":1},{"x":-208,"e":-196,"y":101.5,"n":1},{"x":-188,"e":-180,"y":101.5,"n":1},{"x":-176,"e":-172,"y":101.5,"n":1},{"x":-156,"e":-152,"y":101.5,"n":1},{"x":-252,"e":-248,"y":100.5,"n":1},{"x":-236,"e":-232,"y":100.5,"n":1},{"x":-228,"e":-224,"y":100.5,"n":2},{"x":-220,"e":-212,"y":100.5,"n":1},{"x":-208,"e":-196,"y":100.5,"n":1},{"x":-172,"e":-168,"y":100.5,"n":1},{"x":-164,"e":-160,"y":100.5,"n":1},{"x":-260,"e":-256,"y":99.5,"n":1},{"x":-244,"e":-236,"y":99.5,"n":1},{"x":-224,"e":-208,"y":99.5,"n":1},{"x":-208,"e":-200,"y":99.5,"n":2},{"x":-196,"e":-192,"y":99.5,"n":2},{"x":-176,"e":-172,"y":99.5,"n":1},{"x":-164,"e":-160,"y":99.5,"n":1},{"x":-152,"e":-148,"y":99.5,"n":1},{"x":-260,"e":-256,"y":98.5,"n":2},{"x":-244,"e":-240,"y":98.5,"n":1},{"x":-236,"e":-232,"y":98.5,"n":1},{"x":-224,"e":-212,"y":98.5,"n":1},{"x":-208,"e":-184,"y":98.5,"n":1},{"x":-180,"e":-172,"y":98.5,"n":1},{"x":-152,"e":-148,"y":98.5,"n":1},{"x":-256,"e":-252,"y":97.5,"n":1},{"x":-244,"e":-240,"y":97.5,"n":1},{"x":-228,"e":-224,"y":97.5,"n":1},{"x":-220,"e":-212,"y":97.5,"n":2},{"x":-212,"e":-184,"y":97.5,"n":1},{"x":-176,"e":-168,"y":97.5,"n":2},{"x":-168,"e":-164,"y":97.5,"n":1},{"x":-140,"e":-136,"y":97.5,"n":1},{"x":-232,"e":-228,"y":96.5,"n":1},{"x":-220,"e":-216,"y":96.5,"n":1},{"x":-212,"e":-200,"y":96.5,"n":1},{"x":-196,"e":-192,"y":96.5,"n":1},{"x":-188,"e":-180,"y":96.5,"n":1},{"x":-176,"e":-172,"y":96.5,"n":1},{"x":-236,"e":-232,"y":95.5,"n":1},{"x":-228,"e":-224,"y":95.5,"n":1},{"x":-216,"e":-200,"y":95.5,"n":1},{"x":-196,"e":-192,"y":95.5,"n":1},{"x":-188,"e":-168,"y":95.5,"n":1},{"x":-156,"e":-152,"y":95.5,"n":1},{"x":-148,"e":-144,"y":95.5,"n":1},{"x":-244,"e":-240,"y":94.5,"n":1},{"x":-228,"e":-224,"y":94.5,"n":2},{"x":-216,"e":-208,"y":94.5,"n":1},{"x":-204,"e":-200,"y":94.5,"n":1},{"x":-196,"e":-192,"y":94.5,"n":1},{"x":-188,"e":-184,"y":94.5,"n":1},{"x":-180,"e":-168,"y":94.5,"n":1},{"x":-132,"e":-128,"y":94.5,"n":1},{"x":-232,"e":-228,"y":93.5,"n":1},{"x":-216,"e":-164,"y":93.5,"n":1},{"x":-156,"e":-148,"y":93.5,"n":1},{"x":-248,"e":-244,"y":92.5,"n":1},{"x":-232,"e":-228,"y":92.5,"n":1},{"x":-224,"e":-220,"y":92.5,"n":1},{"x":-208,"e":-204,"y":92.5,"n":2},{"x":-204,"e":-196,"y":92.5,"n":1},{"x":-192,"e":-188,"y":92.5,"n":1},{"x":-188,"e":-176,"y":92.5,"n":2},{"x":-176,"e":-168,"y":92.5,"n":1},{"x":-160,"e":-156,"y":92.5,"n":1},{"x":-132,"e":-128,"y":92.5,"n":1},{"x":-112,"e":-108,"y":92.5,"n":1},{"x":-256,"e":-252,"y":91.5,"n":1},{"x":-220,"e":-208,"y":91.5,"n":1},{"x":-208,"e":-204,"y":91.5,"n":2},{"x":-204,"e":-184,"y":91.5,"n":1},{"x":-184,"e":-180,"y":91.5,"n":2},{"x":-176,"e":-160,"y":91.5,"n":1},{"x":-148,"e":-140,"y":91.5,"n":1},{"x":-244,"e":-240,"y":90.5,"n":1},{"x":-232,"e":-224,"y":90.5,"n":1},{"x":-220,"e":-212,"y":90.5,"n":1},{"x":-208,"e":-204,"y":90.5,"n":2},{"x":-200,"e":-188,"y":90.5,"n":2},{"x":-188,"e":-176,"y":90.5,"n":1},{"x":-176,"e":-172,"y":90.5,"n":2},{"x":-168,"e":-160,"y":90.5,"n":1},{"x":-152,"e":-148,"y":90.5,"n":1},{"x":-144,"e":-140,"y":90.5,"n":1},{"x":-128,"e":-120,"y":90.5,"n":1},{"x":-264,"e":-260,"y":89.5,"n":2},{"x":-256,"e":-252,"y":89.5,"n":1},{"x":-248,"e":-244,"y":89.5,"n":1},{"x":-224,"e":-212,"y":89.5,"n":1},{"x":-208,"e":-204,"y":89.5,"n":1},{"x":-200,"e":-188,"y":89.5,"n":1},{"x":-188,"e":-180,"y":89.5,"n":2},{"x":-180,"e":-160,"y":89.5,"n":1},{"x":-152,"e":-148,"y":89.5,"n":1},{"x":-136,"e":-132,"y":89.5,"n":1},{"x":-112,"e":-108,"y":89.5,"n":1},{"x":-224,"e":-204,"y":88.5,"n":1},{"x":-200,"e":-196,"y":88.5,"n":1},{"x":-192,"e":-188,"y":88.5,"n":1},{"x":-188,"e":-180,"y":88.5,"n":2},{"x":-180,"e":-152,"y":88.5,"n":1},{"x":-260,"e":-256,"y":87.5,"n":1},{"x":-244,"e":-240,"y":87.5,"n":1},{"x":-220,"e":-204,"y":87.5,"n":1},{"x":-200,"e":-180,"y":87.5,"n":1},{"x":-176,"e":-168,"y":87.5,"n":2},{"x":-168,"e":-164,"y":87.5,"n":1},{"x":-160,"e":-156,"y":87.5,"n":1},{"x":-152,"e":-148,"y":87.5,"n":1},{"x":-144,"e":-140,"y":87.5,"n":1},{"x":-124,"e":-120,"y":87.5,"n":1},{"x":-252,"e":-248,"y":86.5,"n":1},{"x":-228,"e":-224,"y":86.5,"n":2},{"x":-212,"e":-200,"y":86.5,"n":1},{"x":-200,"e":-196,"y":86.5,"n":2},{"x":-192,"e":-184,"y":86.5,"n":1},{"x":-184,"e":-176,"y":86.5,"n":2},{"x":-176,"e":-156,"y":86.5,"n":1},{"x":-152,"e":-148,"y":86.5,"n":1},{"x":-140,"e":-136,"y":86.5,"n":1},{"x":-104,"e":-100,"y":86.5,"n":1},{"x":-228,"e":-224,"y":85.5,"n":1},{"x":-212,"e":-208,"y":85.5,"n":2},{"x":-208,"e":-192,"y":85.5,"n":1},{"x":-184,"e":-172,"y":85.5,"n":1},{"x":-160,"e":-140,"y":85.5,"n":1},{"x":-132,"e":-128,"y":85.5,"n":1},{"x":-264,"e":-260,"y":84.5,"n":1},{"x":-220,"e":-212,"y":84.5,"n":1},{"x":-208,"e":-204,"y":84.5,"n":2},{"x":-200,"e":-196,"y":84.5,"n":1},{"x":-192,"e":-180,"y":84.5,"n":2},{"x":-180,"e":-172,"y":84.5,"n":1},{"x":-172,"e":-168,"y":84.5,"n":2},{"x":-168,"e":-140,"y":84.5,"n":1},{"x":-112,"e":-108,"y":84.5,"n":1},{"x":-216,"e":-208,"y":83.5,"n":1},{"x":-204,"e":-200,"y":83.5,"n":1},{"x":-200,"e":-196,"y":83.5,"n":2},{"x":-192,"e":-168,"y":83.5,"n":2},{"x":-168,"e":-164,"y":83.5,"n":1},{"x":-164,"e":-152,"y":83.5,"n":2},{"x":-152,"e":-136,"y":83.5,"n":1},{"x":-132,"e":-128,"y":83.5,"n":1},{"x":-248,"e":-244,"y":82.5,"n":1},{"x":-224,"e":-220,"y":82.5,"n":1},{"x":-212,"e":-208,"y":82.5,"n":1},{"x":-204,"e":-200,"y":82.5,"n":1},{"x":-196,"e":-168,"y":82.5,"n":2},{"x":-168,"e":-164,"y":82.5,"n":1},{"x":-160,"e":-156,"y":82.5,"n":1},{"x":-152,"e":-132,"y":82.5,"n":1},{"x":-268,"e":-264,"y":81.5,"n":1},{"x":-252,"e":-248,"y":81.5,"n":1},{"x":-212,"e":-200,"y":81.5,"n":1},{"x":-200,"e":-192,"y":81.5,"n":2},{"x":-188,"e":-184,"y":81.5,"n":1},{"x":-184,"e":-176,"y":81.5,"n":2},{"x":-176,"e":-168,"y":81.5,"n":3},{"x":-168,"e":-152,"y":81.5,"n":2},{"x":-152,"e":-136,"y":81.5,"n":1},{"x":-208,"e":-136,"y":80.5,"n":2},{"x":-220,"e":-216,"y":80.5,"n":1},{"x":-212,"e":-208,"y":79.5,"n":1},{"x":-248,"e":-244,"y":77.5,"n":1},{"x":-264,"e":-260,"y":76.5,"n":1},{"x":-224,"e":-220,"y":76.5,"n":1},{"x":-216,"e":-212,"y":76.5,"n":1},{"x":-216,"e":-212,"y":74.5,"n":1},{"x":-216,"e":-212,"y":73.5,"n":1},{"x":-208,"e":-200,"y":75.5,"n":1},{"x":-252,"e":-248,"y":72.5,"n":1},{"x":-264,"e":-260,"y":71.5,"n":1},{"x":-264,"e":-260,"y":70.5,"n":1},{"x":-276,"e":-272,"y":70.5,"n":1},{"x":-208,"e":-204,"y":71.5,"n":1},{"x":-248,"e":-244,"y":68.5,"n":1},
{"x":-308,"e":-304,"y":82.5,"n":1},{"x":-296,"e":-292,"y":90.5,"n":1},{"x":-288,"e":-284,"y":90.5,"n":1},{"x":-280,"e":-276,"y":89.5,"n":1},{"x":-296,"e":-292,"y":72.5,"n":1},{"x":-276,"e":-272,"y":71.5,"n":1},{"x":-264,"e":-260,"y":72.5,"n":1},
{"x":-224,"e":-220,"y":67.5,"n":1},{"x":-268,"e":-264,"y":66.5,"n":2},{"x":-196,"e":-192,"y":66.5,"n":1},{"x":-188,"e":-184,"y":67.5,"n":1},{"x":-188,"e":-184,"y":69.5,"n":1},{"x":-212,"e":-208,"y":64.5,"n":1},{"x":-188,"e":-184,"y":64.5,"n":1},{"x":-248,"e":-244,"y":63.5,"n":1},{"x":-236,"e":-232,"y":62.5,"n":1},{"x":-216,"e":-212,"y":62.5,"n":1},{"x":-200,"e":-196,"y":62.5,"n":1},{"x":-240,"e":-236,"y":60.5,"n":1},{"x":-252,"e":-248,"y":59.5,"n":1},{"x":-180,"e":-176,"y":60.5,"n":1},{"x":-184,"e":-180,"y":59.5,"n":1},{"x":-216,"e":-212,"y":58.5,"n":1},{"x":-192,"e":-188,"y":58.5,"n":1},{"x":-184,"e":-176,"y":57.5,"n":1},{"x":-172,"e":-168,"y":57.5,"n":1},{"x":-172,"e":-168,"y":56.5,"n":2},{"x":-164,"e":-160,"y":57.5,"n":1},{"x":-164,"e":-160,"y":56.5,"n":1},{"x":-240,"e":-236,"y":56.5,"n":1},{"x":-208,"e":-204,"y":56.5,"n":1},{"x":-228,"e":-224,"y":55.5,"n":2},{"x":-188,"e":-184,"y":55.5,"n":1},{"x":-180,"e":-176,"y":55.5,"n":2},{"x":-204,"e":-200,"y":54.5,"n":1},{"x":-204,"e":-200,"y":53.5,"n":1},{"x":-192,"e":-188,"y":53.5,"n":1},{"x":-184,"e":-180,"y":53.5,"n":1},{"x":-164,"e":-160,"y":53.5,"n":1},{"x":-160,"e":-156,"y":52.5,"n":1},{"x":-172,"e":-168,"y":52.5,"n":1},{"x":-176,"e":-168,"y":51.5,"n":1},{"x":-208,"e":-200,"y":51.5,"n":1},{"x":-196,"e":-192,"y":51.5,"n":1},{"x":-196,"e":-188,"y":50.5,"n":1},{"x":-204,"e":-200,"y":50.5,"n":1},{"x":-228,"e":-224,"y":49.5,"n":1},{"x":-188,"e":-184,"y":49.5,"n":1},{"x":-180,"e":-172,"y":49.5,"n":1},{"x":-164,"e":-160,"y":49.5,"n":1},{"x":-220,"e":-216,"y":48.5,"n":1},{"x":-204,"e":-200,"y":48.5,"n":1},{"x":-196,"e":-192,"y":48.5,"n":1},{"x":-188,"e":-180,"y":48.5,"n":2},{"x":-176,"e":-172,"y":48.5,"n":1},{"x":-160,"e":-152,"y":48.5,"n":1},{"x":-216,"e":-212,"y":47.5,"n":1},{"x":-192,"e":-188,"y":47.5,"n":1},{"x":-176,"e":-172,"y":47.5,"n":1},{"x":-168,"e":-164,"y":47.5,"n":2},{"x":-160,"e":-156,"y":47.5,"n":1},{"x":-152,"e":-148,"y":47.5,"n":2},{"x":-196,"e":-192,"y":46.5,"n":1},{"x":-176,"e":-172,"y":46.5,"n":1},{"x":-152,"e":-148,"y":46.5,"n":1},{"x":-188,"e":-184,"y":45.5,"n":1},{"x":-172,"e":-168,"y":45.5,"n":1},{"x":-156,"e":-148,"y":45.5,"n":1},{"x":-240,"e":-236,"y":44.5,"n":1},{"x":-212,"e":-208,"y":44.5,"n":1},{"x":-196,"e":-192,"y":44.5,"n":1},{"x":-180,"e":-172,"y":44.5,"n":1},{"x":-156,"e":-148,"y":44.5,"n":2},{"x":-204,"e":-200,"y":43.5,"n":1},{"x":-176,"e":-172,"y":43.5,"n":1},{"x":-168,"e":-164,"y":43.5,"n":1},{"x":-148,"e":-140,"y":43.5,"n":1},{"x":-200,"e":-196,"y":42.5,"n":1},{"x":-184,"e":-176,"y":42.5,"n":1},{"x":-160,"e":-156,"y":42.5,"n":1},{"x":-148,"e":-136,"y":42.5,"n":1},{"x":-184,"e":-180,"y":41.5,"n":1},{"x":-164,"e":-152,"y":41.5,"n":1},{"x":-148,"e":-144,"y":41.5,"n":2},{"x":-176,"e":-172,"y":40.5,"n":1},{"x":-164,"e":-156,"y":40.5,"n":1},{"x":-152,"e":-140,"y":40.5,"n":1},{"x":-184,"e":-172,"y":39.5,"n":1},{"x":-164,"e":-160,"y":39.5,"n":1},{"x":-156,"e":-148,"y":39.5,"n":2},{"x":-212,"e":-204,"y":38.5,"n":1},{"x":-168,"e":-164,"y":38.5,"n":1},{"x":-148,"e":-136,"y":38.5,"n":1},{"x":-196,"e":-192,"y":37.5,"n":1},{"x":-184,"e":-180,"y":37.5,"n":1},{"x":-172,"e":-168,"y":37.5,"n":1},{"x":-156,"e":-152,"y":37.5,"n":2},{"x":-148,"e":-136,"y":37.5,"n":1},{"x":-192,"e":-188,"y":36.5,"n":1},{"x":-184,"e":-180,"y":36.5,"n":1},{"x":-164,"e":-160,"y":36.5,"n":1},{"x":-156,"e":-148,"y":36.5,"n":1},{"x":-196,"e":-192,"y":35.5,"n":1},{"x":-184,"e":-180,"y":35.5,"n":1},{"x":-176,"e":-172,"y":35.5,"n":1},{"x":-168,"e":-160,"y":35.5,"n":1},{"x":-156,"e":-144,"y":35.5,"n":1},{"x":-220,"e":-216,"y":34.5,"n":1},{"x":-180,"e":-172,"y":34.5,"n":1},{"x":-164,"e":-152,"y":34.5,"n":1},{"x":-148,"e":-140,"y":34.5,"n":1},{"x":-184,"e":-176,"y":33.5,"n":1},{"x":-168,"e":-156,"y":33.5,"n":1},{"x":-152,"e":-140,"y":33.5,"n":1},{"x":-180,"e":-172,"y":32.5,"n":1},{"x":-164,"e":-156,"y":32.5,"n":1},{"x":-152,"e":-140,"y":32.5,"n":2},{"x":-204,"e":-200,"y":31.5,"n":1},{"x":-172,"e":-164,"y":31.5,"n":1},{"x":-160,"e":-144,"y":31.5,"n":1},{"x":-224,"e":-220,"y":30.5,"n":1},{"x":-176,"e":-168,"y":30.5,"n":1},{"x":-164,"e":-148,"y":30.5,"n":1},{"x":-172,"e":-164,"y":29.5,"n":1},{"x":-164,"e":-160,"y":29.5,"n":2},{"x":-156,"e":-144,"y":29.5,"n":1},{"x":-184,"e":-180,"y":27.5,"n":1},{"x":-168,"e":-164,"y":27.5,"n":1},{"x":-160,"e":-152,"y":27.5,"n":2},{"x":-184,"e":-180,"y":25.5,"n":1},{"x":-160,"e":-148,"y":25.5,"n":1},{"x":-212,"e":-208,"y":24.5,"n":1},{"x":-156,"e":-148,"y":23.5,"n":1},{"x":-184,"e":-180,"y":22.5,"n":1},{"x":-168,"e":-164,"y":22.5,"n":1},{"x":-176,"e":-172,"y":21.5,"n":2},{"x":-160,"e":-156,"y":21.5,"n":1},{"x":-152,"e":-148,"y":20.5,"n":1},{"x":-148,"e":-140,"y":19.5,"n":1},{"x":-144,"e":-132,"y":16.5,"n":1},{"x":-144,"e":-136,"y":14.5,"n":1},{"x":-148,"e":-144,"y":17.5,"n":2},{"x":-140,"e":-136,"y":12.5,"n":1},{"x":-132,"e":-124,"y":11.5,"n":2},{"x":-136,"e":-132,"y":10.5,"n":1},{"x":-124,"e":-120,"y":7.5,"n":1},{"x":-120,"e":-112,"y":8.5,"n":1},
{"x":-132,"e":-128,"y":5.5,"n":1},{"x":-108,"e":-104,"y":5.5,"n":1},{"x":-128,"e":-124,"y":3.5,"n":1},{"x":-108,"e":-104,"y":3.5,"n":2},{"x":-116,"e":-112,"y":2.5,"n":1},{"x":-136,"e":-132,"y":-0.5,"n":1},{"x":-120,"e":-116,"y":-1.5,"n":1},{"x":-116,"e":-112,"y":-2.5,"n":1},{"x":-128,"e":-124,"y":-3.5,"n":1},{"x":-104,"e":-100,"y":-3.5,"n":1},{"x":-96,"e":-92,"y":-3.5,"n":1},{"x":-144,"e":-140,"y":-4.5,"n":1},{"x":-100,"e":-96,"y":-4.5,"n":1},{"x":-132,"e":-128,"y":-5.5,"n":1},{"x":-124,"e":-120,"y":-5.5,"n":2},{"x":-88,"e":-84,"y":-5.5,"n":1},{"x":-84,"e":-80,"y":-4.5,"n":2},{"x":-100,"e":-96,"y":-6.5,"n":1},{"x":-100,"e":-96,"y":-7.5,"n":1},{"x":-96,"e":-92,"y":-8.5,"n":1},{"x":-116,"e":-112,"y":-11.5,"n":1},{"x":-100,"e":-96,"y":-11.5,"n":1},{"x":-76,"e":-72,"y":-11.5,"n":1},{"x":-120,"e":-116,"y":-13.5,"n":1},{"x":-72,"e":-68,"y":-13.5,"n":1},{"x":-80,"e":-76,"y":-15.5,"n":1},{"x":-92,"e":-88,"y":-17.5,"n":1},{"x":-68,"e":-64,"y":-19.5,"n":1},{"x":-52,"e":-48,"y":-19.5,"n":1},{"x":-60,"e":-56,"y":-21.5,"n":1},{"x":-112,"e":-108,"y":-22.5,"n":1},{"x":-72,"e":-68,"y":-27.5,"n":1},{"x":-40,"e":-36,"y":-32.5,"n":1},{"x":-40,"e":-36,"y":-20.5,"n":1},{"x":-40,"e":-36,"y":-21.5,"n":1},{"x":-40,"e":-32,"y":-23.5,"n":1},{"x":-36,"e":-32,"y":-24.5,"n":1},{"x":-40,"e":-36,"y":-25.5,"n":1},{"x":-28,"e":-24,"y":-23.5,"n":2},{"x":-28,"e":-24,"y":-24.5,"n":1},{"x":-28,"e":-24,"y":-25.5,"n":1},{"x":-24,"e":-16,"y":-22.5,"n":1},{"x":-24,"e":-16,"y":-26.5,"n":1},{"x":-28,"e":-24,"y":-29.5,"n":2},{"x":-28,"e":-24,"y":-31.5,"n":2},{"x":-24,"e":-16,"y":-29.5,"n":1},{"x":-24,"e":-16,"y":-31.5,"n":1},{"x":-20,"e":-12,"y":-33.5,"n":1},{"x":-24,"e":-20,"y":-35.5,"n":2},{"x":-12,"e":-8,"y":-35.5,"n":1},{"x":-28,"e":-24,"y":-39.5,"n":1},{"x":-16,"e":-8,"y":-38.5,"n":1},
{"x":-20,"e":-16,"y":66.5,"n":1},{"x":-4,"e":0,"y":66.5,"n":1},{"x":4,"e":8,"y":67.5,"n":1},{"x":4,"e":8,"y":66.5,"n":1},{"x":8,"e":12,"y":64.5,"n":1},{"x":8,"e":12,"y":63.5,"n":1},{"x":8,"e":12,"y":62.5,"n":2},{"x":-12,"e":-8,"y":62.5,"n":1},{"x":-4,"e":0,"y":62.5,"n":1},{"x":8,"e":12,"y":60.5,"n":1},{"x":-4,"e":0,"y":60.5,"n":1},{"x":-8,"e":0,"y":59.5,"n":1},{"x":-8,"e":-4,"y":57.5,"n":1},{"x":0,"e":4,"y":57.5,"n":1},{"x":0,"e":4,"y":56.5,"n":1},{"x":-12,"e":-8,"y":56.5,"n":2},{"x":-20,"e":-16,"y":55.5,"n":1},{"x":8,"e":12,"y":56.5,"n":1},{"x":-68,"e":-64,"y":55.5,"n":1},{"x":-48,"e":-44,"y":54.5,"n":1},{"x":-40,"e":-36,"y":53.5,"n":1},{"x":-12,"e":-8,"y":53.5,"n":1},{"x":-4,"e":0,"y":54.5,"n":1},{"x":8,"e":12,"y":53.5,"n":1},{"x":0,"e":4,"y":52.5,"n":2},{"x":-4,"e":8,"y":51.5,"n":2},{"x":16,"e":20,"y":51.5,"n":1},{"x":-76,"e":-72,"y":52.5,"n":1},{"x":-76,"e":-72,"y":50.5,"n":1},{"x":-56,"e":-52,"y":50.5,"n":1},{"x":-24,"e":-16,"y":50.5,"n":1},{"x":-12,"e":-8,"y":50.5,"n":1},{"x":-8,"e":-4,"y":49.5,"n":1},{"x":-4,"e":4,"y":49.5,"n":2},{"x":8,"e":12,"y":48.5,"n":2},{"x":-16,"e":-12,"y":48.5,"n":2},{"x":-60,"e":-56,"y":48.5,"n":1},{"x":-24,"e":-16,"y":47.5,"n":1},{"x":-16,"e":-8,"y":47.5,"n":1},{"x":-4,"e":4,"y":47.5,"n":1},{"x":12,"e":16,"y":47.5,"n":1},{"x":-60,"e":-56,"y":46.5,"n":1},{"x":-52,"e":-48,"y":46.5,"n":1},{"x":-48,"e":-44,"y":45.5,"n":1},{"x":-48,"e":-44,"y":44.5,"n":1},{"x":4,"e":12,"y":46.5,"n":1},{"x":-16,"e":-4,"y":45.5,"n":1},{"x":-16,"e":-4,"y":44.5,"n":1},{"x":0,"e":4,"y":45.5,"n":1},{"x":4,"e":8,"y":44.5,"n":2},{"x":16,"e":20,"y":44.5,"n":1},{"x":-16,"e":-4,"y":43.5,"n":1},{"x":8,"e":12,"y":43.5,"n":1},{"x":-24,"e":-16,"y":42.5,"n":1},{"x":-8,"e":-4,"y":41.5,"n":1},{"x":-8,"e":-4,"y":40.5,"n":1},{"x":-40,"e":-36,"y":41.5,"n":1},{"x":-48,"e":-40,"y":40.5,"n":1},{"x":-48,"e":-44,"y":39.5,"n":1},{"x":-28,"e":-24,"y":40.5,"n":1},{"x":-28,"e":-24,"y":39.5,"n":1},{"x":-36,"e":-32,"y":39.5,"n":1},{"x":-16,"e":-12,"y":40.5,"n":2},{"x":-12,"e":-4,"y":39.5,"n":1},{"x":-44,"e":-40,"y":38.5,"n":1},{"x":4,"e":12,"y":39.5,"n":1},{"x":16,"e":20,"y":39.5,"n":2},{"x":-52,"e":-44,"y":37.5,"n":1},{"x":-24,"e":-16,"y":38.5,"n":1},{"x":8,"e":12,"y":37.5,"n":1},{"x":16,"e":20,"y":37.5,"n":1},{"x":24,"e":28,"y":37.5,"n":1},{"x":-36,"e":-32,"y":35.5,"n":1},{"x":-44,"e":-40,"y":34.5,"n":1},{"x":-44,"e":-40,"y":33.5,"n":1},{"x":-24,"e":-20,"y":34.5,"n":2},{"x":16,"e":24,"y":34.5,"n":1},{"x":12,"e":16,"y":33.5,"n":1},{"x":20,"e":24,"y":32.5,"n":1},{"x":-36,"e":-24,"y":31.5,"n":1},{"x":12,"e":16,"y":31.5,"n":1},{"x":24,"e":28,"y":31.5,"n":1},{"x":16,"e":24,"y":30.5,"n":1},{"x":-32,"e":-28,"y":28.5,"n":1},{"x":16,"e":28,"y":28.5,"n":1},{"x":20,"e":28,"y":25.5,"n":1},{"x":24,"e":32,"y":23.5,"n":1},{"x":24,"e":28,"y":22.5,"n":1},{"x":28,"e":36,"y":21.5,"n":1},
{"x":32,"e":36,"y":20.5,"n":1},{"x":40,"e":44,"y":19.5,"n":1},{"x":56,"e":60,"y":20.5,"n":1},{"x":68,"e":72,"y":20.5,"n":1},{"x":68,"e":72,"y":18.5,"n":1},{"x":28,"e":32,"y":16.5,"n":1},{"x":32,"e":40,"y":15.5,"n":1},{"x":44,"e":48,"y":17.5,"n":1},{"x":44,"e":48,"y":16.5,"n":1},{"x":44,"e":48,"y":15.5,"n":1},{"x":84,"e":88,"y":15.5,"n":1},{"x":24,"e":32,"y":14.5,"n":1},{"x":52,"e":56,"y":13.5,"n":1},{"x":68,"e":72,"y":13.5,"n":1},{"x":56,"e":60,"y":12.5,"n":1},{"x":56,"e":60,"y":11.5,"n":1},{"x":72,"e":76,"y":12.5,"n":2},{"x":68,"e":72,"y":11.5,"n":1},{"x":40,"e":44,"y":10.5,"n":1},{"x":52,"e":56,"y":10.5,"n":1},{"x":104,"e":108,"y":10.5,"n":1},{"x":36,"e":40,"y":9.5,"n":1},{"x":48,"e":52,"y":9.5,"n":2},{"x":48,"e":52,"y":8.5,"n":2},{"x":60,"e":64,"y":9.5,"n":1},{"x":72,"e":76,"y":8.5,"n":1},{"x":76,"e":80,"y":7.5,"n":1},{"x":76,"e":80,"y":6.5,"n":1},{"x":132,"e":136,"y":7.5,"n":1},{"x":44,"e":56,"y":6.5,"n":1},{"x":56,"e":64,"y":5.5,"n":1},{"x":72,"e":76,"y":5.5,"n":2},{"x":72,"e":76,"y":4.5,"n":1},{"x":80,"e":84,"y":5.5,"n":1},{"x":92,"e":96,"y":4.5,"n":1},{"x":56,"e":60,"y":3.5,"n":1},{"x":80,"e":84,"y":3.5,"n":1},{"x":88,"e":92,"y":3.5,"n":1},{"x":112,"e":116,"y":3.5,"n":1},{"x":60,"e":68,"y":2.5,"n":1},{"x":132,"e":136,"y":2.5,"n":1},{"x":60,"e":64,"y":1.5,"n":1},{"x":52,"e":56,"y":1.5,"n":1},{"x":80,"e":84,"y":1.5,"n":1},{"x":68,"e":76,"y":0.5,"n":2},{"x":116,"e":120,"y":0.5,"n":1},{"x":56,"e":68,"y":-0.5,"n":1},{"x":92,"e":96,"y":-0.5,"n":1},{"x":92,"e":96,"y":-1.5,"n":1},{"x":100,"e":104,"y":-0.5,"n":1},{"x":164,"e":168,"y":-0.5,"n":1},{"x":116,"e":120,"y":-1.5,"n":1},{"x":104,"e":108,"y":-1.5,"n":1},{"x":72,"e":80,"y":-1.5,"n":1},{"x":72,"e":80,"y":-2.5,"n":1},{"x":96,"e":100,"y":-2.5,"n":1},{"x":112,"e":116,"y":-2.5,"n":1},{"x":128,"e":136,"y":-3.5,"n":1},{"x":84,"e":96,"y":-3.5,"n":1},{"x":124,"e":128,"y":-4.5,"n":1},{"x":96,"e":108,"y":-4.5,"n":2},{"x":192,"e":196,"y":-4.5,"n":1},{"x":172,"e":176,"y":-5.5,"n":1},{"x":108,"e":116,"y":-5.5,"n":1},{"x":80,"e":96,"y":-5.5,"n":1},{"x":96,"e":108,"y":-6.5,"n":1},{"x":128,"e":132,"y":-6.5,"n":1},{"x":128,"e":132,"y":-7.5,"n":1},{"x":128,"e":132,"y":-8.5,"n":1},{"x":136,"e":144,"y":-7.5,"n":1},{"x":104,"e":112,"y":-8.5,"n":2},{"x":100,"e":116,"y":-9.5,"n":1},{"x":160,"e":164,"y":-9.5,"n":1},{"x":120,"e":124,"y":-9.5,"n":1},{"x":148,"e":152,"y":-10.5,"n":1},{"x":132,"e":136,"y":-10.5,"n":1},{"x":120,"e":128,"y":-11.5,"n":1},{"x":132,"e":144,"y":-11.5,"n":1},{"x":152,"e":156,"y":-11.5,"n":1},{"x":172,"e":176,"y":-11.5,"n":1},{"x":172,"e":176,"y":-12.5,"n":1},{"x":180,"e":184,"y":-12.5,"n":1},{"x":136,"e":144,"y":-13.5,"n":2},{"x":160,"e":164,"y":-13.5,"n":1},{"x":164,"e":168,"y":-14.5,"n":1},{"x":148,"e":156,"y":-14.5,"n":1},{"x":152,"e":156,"y":-15.5,"n":1},{"x":176,"e":180,"y":-15.5,"n":1},{"x":160,"e":164,"y":-15.5,"n":1},{"x":148,"e":152,"y":-16.5,"n":1},{"x":156,"e":160,"y":-16.5,"n":2},{"x":144,"e":148,"y":-16.5,"n":2},{"x":164,"e":168,"y":-17.5,"n":2},{"x":172,"e":176,"y":-17.5,"n":1},{"x":188,"e":196,"y":-17.5,"n":1},{"x":160,"e":164,"y":-18.5,"n":1},{"x":168,"e":172,"y":-18.5,"n":1},{"x":196,"e":200,"y":-18.5,"n":1},{"x":184,"e":188,"y":-19.5,"n":1},{"x":152,"e":160,"y":-19.5,"n":2},{"x":188,"e":196,"y":-20.5,"n":1},{"x":176,"e":180,"y":-20.5,"n":1},{"x":168,"e":176,"y":-21.5,"n":1},{"x":188,"e":196,"y":-21.5,"n":1},{"x":188,"e":196,"y":-22.5,"n":1},{"x":180,"e":184,"y":-22.5,"n":1},{"x":172,"e":184,"y":-23.5,"n":2},{"x":188,"e":192,"y":-24.5,"n":1},{"x":168,"e":188,"y":-24.5,"n":1},{"x":196,"e":200,"y":-25.5,"n":2},{"x":176,"e":180,"y":-25.5,"n":1},{"x":188,"e":196,"y":-27.5,"n":1},
{"x":28,"e":36,"y":-30.5,"n":1},{"x":44,"e":52,"y":-30.5,"n":1},{"x":56,"e":60,"y":-30.5,"n":2},{"x":68,"e":76,"y":-30.5,"n":1},{"x":24,"e":36,"y":-31.5,"n":1},{"x":56,"e":60,"y":-31.5,"n":1},{"x":132,"e":140,"y":-31.5,"n":2},{"x":164,"e":172,"y":-31.5,"n":1},{"x":180,"e":184,"y":-31.5,"n":1},{"x":192,"e":200,"y":-31.5,"n":2},{"x":28,"e":32,"y":-32.5,"n":1},{"x":40,"e":48,"y":-32.5,"n":1},{"x":60,"e":68,"y":-32.5,"n":1},{"x":76,"e":88,"y":-32.5,"n":1},{"x":96,"e":104,"y":-32.5,"n":2},{"x":112,"e":120,"y":-32.5,"n":1},{"x":128,"e":136,"y":-32.5,"n":1},{"x":144,"e":152,"y":-32.5,"n":1},{"x":168,"e":176,"y":-32.5,"n":1},{"x":184,"e":192,"y":-32.5,"n":1},{"x":24,"e":28,"y":-33.5,"n":1},{"x":32,"e":40,"y":-33.5,"n":1},{"x":56,"e":60,"y":-33.5,"n":1},{"x":64,"e":72,"y":-33.5,"n":1},{"x":84,"e":92,"y":-33.5,"n":2},{"x":96,"e":112,"y":-33.5,"n":1},{"x":116,"e":120,"y":-33.5,"n":1},{"x":136,"e":144,"y":-33.5,"n":2},{"x":156,"e":160,"y":-33.5,"n":1},{"x":164,"e":172,"y":-33.5,"n":1},{"x":176,"e":184,"y":-33.5,"n":1},{"x":188,"e":200,"y":-33.5,"n":2},{"x":28,"e":32,"y":-34.5,"n":1},{"x":60,"e":72,"y":-34.5,"n":1},{"x":88,"e":92,"y":-34.5,"n":1},{"x":100,"e":108,"y":-34.5,"n":1},{"x":112,"e":120,"y":-34.5,"n":1},{"x":124,"e":132,"y":-34.5,"n":1},{"x":144,"e":148,"y":-34.5,"n":2},{"x":156,"e":160,"y":-34.5,"n":2},{"x":164,"e":176,"y":-34.5,"n":1},{"x":24,"e":28,"y":-35.5,"n":1},{"x":64,"e":68,"y":-35.5,"n":1},{"x":72,"e":76,"y":-35.5,"n":1},{"x":84,"e":88,"y":-35.5,"n":1},{"x":112,"e":116,"y":-35.5,"n":1},{"x":120,"e":136,"y":-35.5,"n":2},{"x":160,"e":164,"y":-35.5,"n":2},{"x":172,"e":176,"y":-35.5,"n":1},{"x":196,"e":200,"y":-35.5,"n":1},{"x":28,"e":32,"y":-36.5,"n":1},{"x":40,"e":44,"y":-36.5,"n":1},{"x":56,"e":60,"y":-36.5,"n":2},{"x":64,"e":72,"y":-36.5,"n":1},{"x":100,"e":104,"y":-36.5,"n":2},{"x":108,"e":112,"y":-36.5,"n":1},{"x":120,"e":140,"y":-36.5,"n":2},{"x":144,"e":152,"y":-36.5,"n":3},{"x":160,"e":164,"y":-36.5,"n":2},{"x":168,"e":172,"y":-36.5,"n":1},{"x":176,"e":180,"y":-36.5,"n":1},{"x":184,"e":188,"y":-36.5,"n":2},{"x":28,"e":32,"y":-37.5,"n":1},{"x":48,"e":52,"y":-37.5,"n":1},{"x":68,"e":72,"y":-37.5,"n":1},{"x":84,"e":92,"y":-37.5,"n":1},{"x":100,"e":104,"y":-37.5,"n":2},{"x":108,"e":112,"y":-37.5,"n":1},{"x":120,"e":140,"y":-37.5,"n":2},{"x":144,"e":152,"y":-37.5,"n":3},{"x":160,"e":164,"y":-37.5,"n":2},{"x":192,"e":196,"y":-37.5,"n":1},{"x":68,"e":76,"y":-38.5,"n":1},{"x":92,"e":96,"y":-38.5,"n":1},{"x":100,"e":104,"y":-38.5,"n":2},{"x":112,"e":140,"y":-38.5,"n":2},{"x":160,"e":168,"y":-38.5,"n":2},{"x":180,"e":192,"y":-38.5,"n":1},{"x":196,"e":200,"y":-38.5,"n":2},{"x":28,"e":32,"y":-39.5,"n":1},{"x":40,"e":44,"y":-39.5,"n":1},{"x":108,"e":120,"y":-39.5,"n":1},{"x":120,"e":136,"y":-39.5,"n":2},{"x":148,"e":152,"y":-39.5,"n":1},{"x":160,"e":168,"y":-39.5,"n":2},{"x":180,"e":184,"y":-39.5,"n":1},{"x":188,"e":192,"y":-39.5,"n":1},{"x":196,"e":200,"y":-39.5,"n":2},
{"x":12,"e":24,"y":-33.5,"n":1},{"x":16,"e":20,"y":-35.5,"n":1},{"x":12,"e":16,"y":-37.5,"n":1},{"x":20,"e":24,"y":-37.5,"n":1},{"x":12,"e":20,"y":-38.5,"n":2},{"x":16,"e":24,"y":-39.5,"n":1}
]},
"layer":[
{"layer":[
{"data":{"name":"body"},"mark":{"type":"rect","height":8.8},"encoding":{"x":{"field":"x","type":"quantitative","scale":{"domain":[-400,200],"nice":false,"zero":false},"axis":{"orient":"bottom","values":[-400,-300,-200,-100,0,100,200],"title":"z0/tanλ","titleAnchor":"end","titlePadding":3,"tickSize":-21,"labelPadding":31}},"x2":{"field":"e"},"y":{"field":"y","type":"quantitative","scale":{"domain":[-40,120],"nice":false,"zero":false},"axis":{"orient":"left","values":[-40,-20,0,20,40,60,80,100,120],"title":"recon_z [mm]","titleFontSize":26,"titleAnchor":"end","titlePadding":26,"tickSize":-30,"labelPadding":36}},"color":{"field":"n","type":"quantitative","legend":null,"scale":{"type":"threshold","domain":[1.63,2.68,4.4,7.3,12.1,19.9,42.7,60.3,120,171,341,486,683,1367,1932,3866,5540,10940,15590],"range":["#283ca8","#1748c4","#1260dc","#1270d8","#157ed4","#138cd0","#0d9ccc","#0aa8c6","#1eaaaa","#2eb6a2","#52b98e","#79bf7e","#98bf70","#b3bc66","#d0b55e","#e0ba4a","#f2bf3a","#ffd126","#fbe31c","#f9fb0e"]}}}},
{"data":{"name":"fine"},"mark":{"type":"rect","height":4.22},"encoding":{"x":{"field":"x","type":"quantitative","axis":{"orient":"bottom","values":[-380,-360,-340,-320,-280,-260,-240,-220,-180,-160,-140,-120,-80,-60,-40,-20,20,40,60,80,120,140,160,180],"title":null,"labels":false,"tickSize":-10,"domain":false}},"x2":{"field":"e"},"y":{"field":"y","type":"quantitative","axis":{"orient":"left","values":[-35,-30,-25,-15,-10,-5,5,10,15,25,30,35,45,50,55,65,70,75,85,90,95,105,110,115],"title":null,"labels":false,"tickSize":-15,"domain":false}},"color":{"field":"n","type":"quantitative","legend":null,"scale":{"type":"threshold","domain":[1.63,2.68,4.4,7.3,12.1,19.9,42.7,60.3,120,171,341,486,683,1367,1932,3866,5540,10940,15590],"range":["#283ca8","#1748c4","#1260dc","#1270d8","#157ed4","#138cd0","#0d9ccc","#0aa8c6","#1eaaaa","#2eb6a2","#52b98e","#79bf7e","#98bf70","#b3bc66","#d0b55e","#e0ba4a","#f2bf3a","#ffd126","#fbe31c","#f9fb0e"]}}}},
{"data":{"name":"lines"},"mark":{"type":"line","strokeWidth":1.5},"encoding":{"x":{"field":"x","type":"quantitative","axis":null},"y":{"field":"y","type":"quantitative","axis":null},"stroke":{"field":"k","type":"nominal","legend":null,"scale":{"domain":["b","s"],"range":["#ff0000","#00ffff"]}}}},
{"data":{"name":"boxes"},"mark":{"type":"rect","fill":"white","strokeWidth":2},"encoding":{"x":{"field":"x","type":"quantitative","axis":null},"x2":{"field":"e"},"y":{"field":"y","type":"quantitative","axis":null},"y2":{"field":"f"},"stroke":{"field":"k","type":"nominal","legend":null}}},
{"data":{"name":"divs"},"mark":{"type":"rule","strokeWidth":1.5},"encoding":{"x":{"field":"x","type":"quantitative","axis":null},"x2":{"field":"e"},"y":{"field":"y","type":"quantitative","axis":null},"stroke":{"field":"k","type":"nominal","legend":null}}},
{"data":{"name":"tl"},"mark":{"type":"text","align":"left","baseline":"middle","font":"Liberation Sans","fontSize":21.5,"color":"#000"},"encoding":{"x":{"field":"x","type":"quantitative","axis":null},"y":{"field":"y","type":"quantitative","axis":null},"text":{"field":"t"}}},
{"data":{"name":"tr"},"mark":{"type":"text","align":"right","baseline":"middle","font":"Liberation Sans","fontSize":21.5,"color":"#000"},"encoding":{"x":{"field":"x","type":"quantitative","axis":null},"y":{"field":"y","type":"quantitative","axis":null},"text":{"field":"t"}}},
{"data":{"name":"tc1"},"mark":{"type":"text","align":"center","baseline":"middle","font":"Liberation Sans","fontSize":11,"color":"#000"},"encoding":{"x":{"field":"x","type":"quantitative","axis":null},"y":{"field":"y","type":"quantitative","axis":null},"text":{"field":"t"}}},
{"data":{"name":"tc2"},"mark":{"type":"text","align":"center","baseline":"middle","font":"Liberation Sans","fontSize":12.2,"color":"#000"},"encoding":{"x":{"field":"x","type":"quantitative","axis":null},"y":{"field":"y","type":"quantitative","axis":null},"text":{"field":"t"}}}
],"resolve":{"axis":{"x":"independent","y":"independent"}}},
{"layer":[
{"data":{"name":"bar"},"mark":{"type":"rect"},"encoding":{"x":{"field":"a","type":"quantitative","axis":null},"x2":{"field":"b"},"y":{"field":"lo","type":"quantitative","scale":{"type":"log","domain":[1,21900],"nice":false},"axis":{"orient":"right","offset":63,"values":[1,10,100,1000,10000],"title":null,"tickSize":-30,"labelPadding":44,"labelFontSize":26,"labelExpr":"datum.value==1?'1':datum.value==10?'10':datum.value==100?'10²':datum.value==1000?'10³':'10⁴'"}},"y2":{"field":"hi"},"color":{"field":"n","type":"quantitative","legend":null,"scale":{"type":"threshold","domain":[1.63,2.68,4.4,7.3,12.1,19.9,42.7,60.3,120,171,341,486,683,1367,1932,3866,5540,10940,15590],"range":["#283ca8","#1748c4","#1260dc","#1270d8","#157ed4","#138cd0","#0d9ccc","#0aa8c6","#1eaaaa","#2eb6a2","#52b98e","#79bf7e","#98bf70","#b3bc66","#d0b55e","#e0ba4a","#f2bf3a","#ffd126","#fbe31c","#f9fb0e"]}}}},
{"data":{"name":"bar"},"mark":{"type":"rect","opacity":0},"encoding":{"x":{"field":"a","type":"quantitative","axis":null},"x2":{"field":"b"},"y":{"field":"lo","type":"quantitative","scale":{"type":"log","domain":[1,21900],"nice":false},"axis":{"orient":"right","offset":63,"values":[2,3,4,5,6,7,8,9,20,30,40,50,60,70,80,90,200,300,400,500,600,700,800,900,2000,3000,4000,5000,6000,7000,8000,9000,20000],"title":null,"labels":false,"tickSize":-15,"domain":false}},"y2":{"field":"hi"}}}
],"resolve":{"axis":{"y":"independent"}}}
],"resolve":{"axis":{"x":"independent","y":"independent"},"scale":{"y":"independent"}}}
